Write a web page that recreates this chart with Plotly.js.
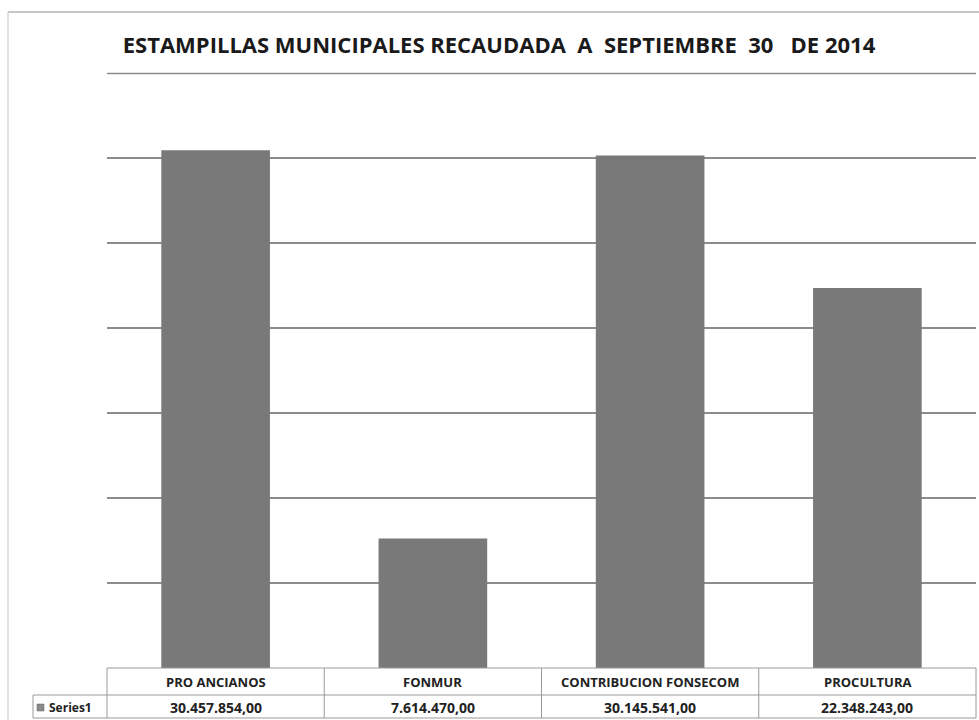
<!DOCTYPE html>
<html>
<head>
<meta charset="utf-8">
<script src="https://cdn.plot.ly/plotly-3.0.1.min.js"></script>
<style>html,body{margin:0;padding:0;background:#fff;}#chart{width:979px;height:720px;}</style>
</head>
<body>
<div id="chart"></div>
<script>
const categories = ["PRO ANCIANOS", "FONMUR", "CONTRIBUCION FONSECOM", "PROCULTURA"];
const values = [30457854, 7614470, 30145541, 22348243];
const seriesName = "Series1";
const titleText = "ESTAMPILLAS MUNICIPALES RECAUDADA&nbsp;&nbsp;A&nbsp;&nbsp;SEPTIEMBRE&nbsp;&nbsp;30&nbsp;&nbsp;&nbsp;DE 2014";

function fmt(v) {
  const s = Math.round(v).toString().replace(/\B(?=(\d{3})+(?!\d))/g, ".");
  return s + ",00";
}

const W = 979, H = 720;
const L = 107, R = 3, T = 73, B = 52;
const pw = W - L - R, ph = H - T - B;
const px = x => (x - L) / pw;
const py = y => (H - B - y) / ph;

const font = "'Open Sans', 'Noto Sans', sans-serif";
const lineCol = "#9a9a9a";

const shapes = [];
function hline(x0, x1, y, col, w) {
  shapes.push({type: "line", xref: "paper", yref: "paper", x0: px(x0), x1: px(x1), y0: py(y), y1: py(y), line: {color: col || lineCol, width: w || 1}});
}
function vline(x, y0, y1, col, w) {
  shapes.push({type: "line", xref: "paper", yref: "paper", x0: px(x), x1: px(x), y0: py(y0), y1: py(y1), line: {color: col || lineCol, width: w || 1}});
}
// outer chart frame
hline(8, 979, 12, "#b5b5b5", 1.5);
vline(8, 12, 720, "#c5c5c5", 1);
// top gridline (range end)
hline(107, 976, 73.5, "#8c8c8c", 1.5);
// data table
hline(107, 976, 668);
hline(33, 976, 695);
hline(33, 976, 718);
vline(33, 695, 718);
const colW = pw / categories.length;
for (let i = 0; i <= categories.length; i++) vline(L + i * colW, 668, 718);

const annotations = [];
categories.forEach((c, i) => {
  annotations.push({xref: "x", yref: "paper", x: c, y: py(681.5), text: "<b>" + c + "</b>", showarrow: false,
    font: {family: font, size: 13, color: "#222"}, xanchor: "center", yanchor: "middle"});
  annotations.push({xref: "x", yref: "paper", x: c, y: py(707), text: "<b>" + fmt(values[i]) + "</b>", showarrow: false,
    font: {family: font, size: 14, color: "#222"}, xanchor: "center", yanchor: "middle"});
});
// legend key in table
shapes.push({type: "rect", xref: "paper", yref: "paper", x0: px(37), x1: px(44), y0: py(711), y1: py(704), fillcolor: "#8a8a8a", line: {color: "#666", width: 0.5}});
annotations.push({xref: "paper", yref: "paper", x: px(47), y: py(707), text: "<b>" + seriesName + "</b>", showarrow: false,
  font: {family: font, size: 12, color: "#222"}, xanchor: "left", yanchor: "middle"});

const data = [{
  type: "bar",
  x: categories,
  y: values,
  name: seriesName,
  marker: {color: "#797979", line: {width: 0}},
  hoverinfo: "x+y"
}];

const layout = {
  width: W, height: H,
  margin: {l: L, r: R, t: T, b: B, pad: 0},
  paper_bgcolor: "#ffffff",
  plot_bgcolor: "#ffffff",
  showlegend: false,
  bargap: 0.5,
  title: {text: "<b>" + titleText + "</b>", xref: "container", yref: "container", x: 499 / W, y: 1 - 45 / H,
    xanchor: "center", yanchor: "middle", font: {family: font, size: 22, color: "#1a1a1a"}},
  xaxis: {type: "category", showticklabels: false, showgrid: false, zeroline: false, showline: false, ticks: ""},
  yaxis: {range: [0, 35000000], dtick: 5000000, showticklabels: false, showgrid: true, gridcolor: "#8c8c8c", gridwidth: 1.5,
    zeroline: false, showline: false, ticks: ""},
  shapes: shapes,
  annotations: annotations
};

Plotly.newPlot("chart", data, layout, {displayModeBar: false, staticPlot: true});
</script>
</body>
</html>
